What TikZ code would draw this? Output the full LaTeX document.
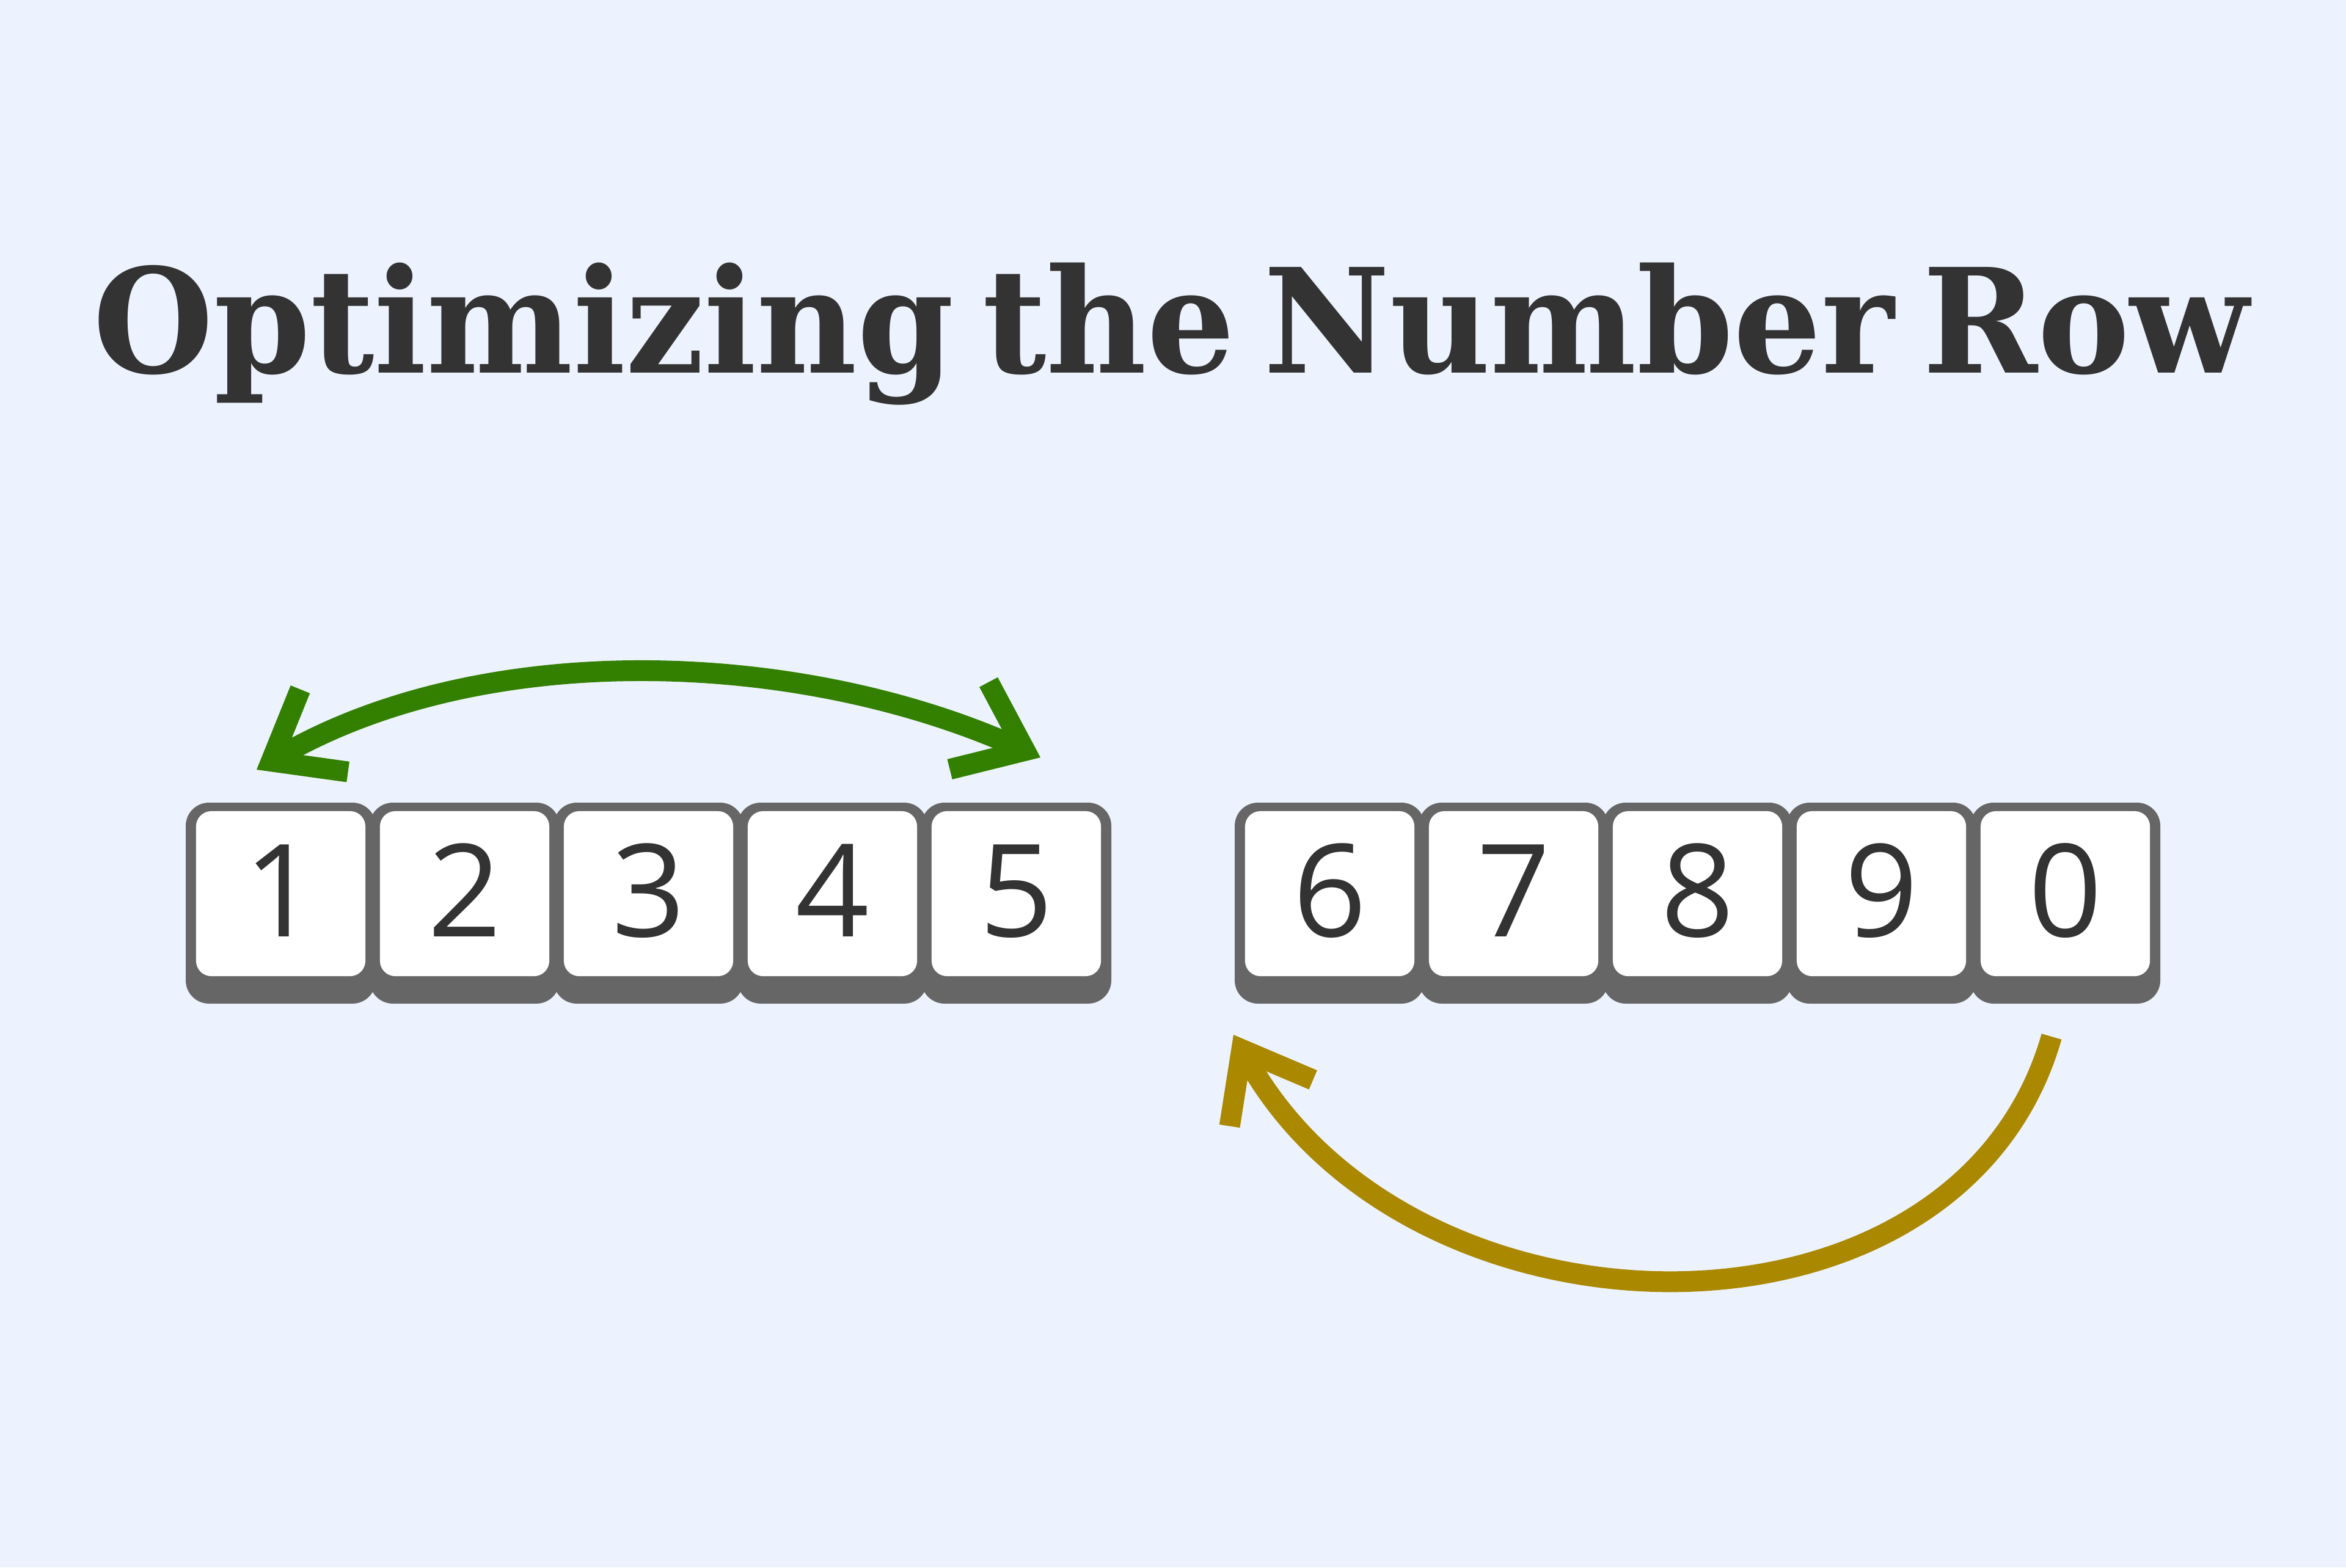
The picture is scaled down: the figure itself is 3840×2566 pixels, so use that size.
\documentclass[tikz,border=0pt]{standalone}
\usepackage{fontspec}
\usepackage{graphicx}
\setmainfont{Open Sans}
\newfontfamily\titlefont{DejaVu Serif}[WordSpace=0.6]
\newfontfamily\digitfont{Open Sans}
\usetikzlibrary{arrows.meta}
\definecolor{bg}{HTML}{EDF3FE}
\definecolor{ink}{HTML}{333333}
\definecolor{keydark}{HTML}{666666}
\definecolor{arrowgreen}{HTML}{338000}
\definecolor{arrowgold}{HTML}{AA8800}
\begin{document}
\begin{tikzpicture}[x=0.01cm,y=-0.01cm,
  keybase/.style={fill=keydark, rounded corners=0.38cm},
  keycap/.style={fill=white, rounded corners=0.25cm, minimum width=2.77cm, minimum height=2.70cm, inner sep=0pt, text height=1.40cm, text depth=0pt, text=ink, font=\digitfont\fontsize{60pt}{70pt}\selectfont},
  greenarrow/.style={draw=arrowgreen, line width=0.34cm, arrows={Straight Barb[length=1.0cm, width=1.56cm, sharp]-Straight Barb[length=1.0cm, width=1.56cm, sharp]}},
  goldarrow/.style={draw=arrowgold, line width=0.34cm, arrows={-Straight Barb[length=1.0cm, width=1.56cm, sharp]}}
]
\fill[bg] (0,0) rectangle (3840,2566);
\node[anchor=base, text=ink, inner sep=0pt] (title) at (1917.5,610)
  {\resizebox{35.27cm}{\height}{\titlefont\bfseries\fontsize{67.5pt}{80pt}\selectfont Optimizing the Number Row}};
\foreach \d/\x in {1/321,2/622,3/923,4/1224,5/1525,6/2038,7/2339,8/2640,9/2941,0/3242} {
  \fill[keybase] (\x-17,1314) rectangle ++(311,329);
  \node[keycap] (k\d) at (\x+138.5,1463) {\d};
}
\coordinate (gL) at (420,1260);
\coordinate (gR) at (1703,1240);
\draw[greenarrow] (gL) .. controls (790,1046) and (1303,1062) .. (gR);
\coordinate (yS) at (3358,1697);
\coordinate (yE) at (2019,1694);
\draw[goldarrow] (yS) .. controls (3205,2233) and (2310,2219) .. (yE);
\end{tikzpicture}
\end{document}
